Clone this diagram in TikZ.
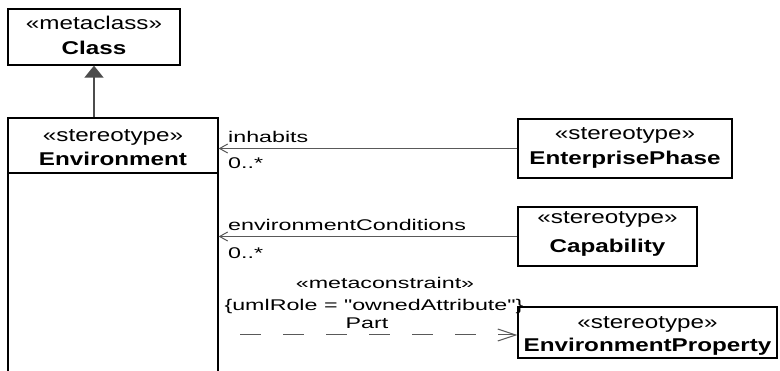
\documentclass[tikz,border=0pt]{standalone}
\usepackage{fontspec}
\setmainfont{Liberation Sans}
\newfontfamily\umlf[FakeStretch=1.5]{Liberation Sans}
\newfontfamily\umlb[FakeStretch=1.31]{Liberation Sans}
\usetikzlibrary{arrows.meta}
\begin{document}
\begin{tikzpicture}[x=1pt,y=-1pt,
  box/.style={draw=black,line width=1.3pt,inner sep=0pt,fill=white},
  boxtext/.style={font=\umlb\fontsize{18.5}{20}\selectfont,inner sep=0pt,anchor=base},
  nametext/.style={font=\umlb\bfseries\fontsize{18.5}{20}\selectfont,inner sep=0pt,anchor=base},
  lbl/.style={font=\umlf\fontsize{15.5}{17}\selectfont,inner sep=0pt,anchor=base west},
  clbl/.style={font=\umlf\fontsize{15.5}{17}\selectfont,inner sep=0pt,anchor=base},
  conn/.style={draw=black!65,line width=1pt},
  assoc/.style={conn,-{Straight Barb[length=8pt,width=9pt,line width=1pt]}},
  gen/.style={draw=black!70,line width=1.5pt,-{Triangle[length=12pt,width=19pt,fill=black!70]}},
  dep/.style={conn,dash pattern=on 21pt off 22pt,-{Straight Barb[length=18pt,width=12pt,line width=1pt]}}
]
\clip (0,0) rectangle (780,371);
\fill[white] (0,0) rectangle (780,371);

% boxes
\node[box,minimum width=172pt,minimum height=56pt] (cls) at (94,37) {};
\node[box,minimum width=210pt,minimum height=282pt] (env) at (113,259) {};
\draw[line width=1.3pt] (env.west |- 0,173) -- (env.east |- 0,173);
\node[box,minimum width=214pt,minimum height=59pt] (ep) at (625,148.5) {};
\node[box,minimum width=179pt,minimum height=59pt] (cap) at (607.5,236.5) {};
\node[box,minimum width=259pt,minimum height=51pt] (eprop) at (647.5,332.5) {};

% box texts
\node[boxtext] (clsst) at (94,29.5) {«metaclass»};
\node[nametext] (clsnm) at (94,55) {Class};
\node[boxtext] (envst) at (113,142) {«stereotype»};
\node[nametext] (envnm) at (113,166) {Environment};
\node[boxtext] (epst) at (625,140) {«stereotype»};
\node[nametext] (epnm) at (625,165) {EnterprisePhase};
\node[boxtext] (capst) at (607.5,224) {«stereotype»};
\node[nametext] (capnm) at (607.5,253) {Capability};
\node[boxtext] (eprst) at (647.5,329) {«stereotype»};
\node[nametext] (eprnm) at (647.5,352) {EnvironmentProperty};

% generalization
\draw[gen] (env.north -| cls.south) -- (cls.south);

% associations
\draw[assoc] (ep.west) -- (ep.west -| env.east);
\draw[assoc] (cap.west) -- (cap.west -| env.east);
\node[lbl] (l1) at (228,142.5) {inhabits};
\node[lbl] (m1) at (228,168.5) {0..*};
\node[lbl] (l2) at (228,230.5) {environmentConditions};
\node[lbl] (m2) at (228,258.5) {0..*};

% dependency
\coordinate (ds) at (240,335);
\draw[dep] (ds) -- (ds -| eprop.west);
\node[clbl] (mc) at (385,288.5) {«metaconstraint»};
\node[clbl] (ur) at (374,310.5) {\{umlRole = "ownedAttribute"\}};
\node[clbl] (pt) at (367,328.5) {Part};
\end{tikzpicture}
\end{document}
